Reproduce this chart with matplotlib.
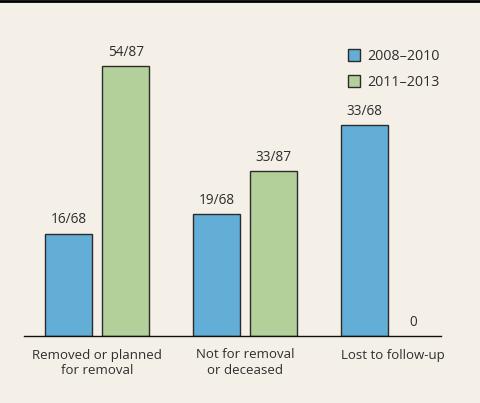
import numpy as np
import matplotlib
matplotlib.use("Agg")
import matplotlib.pyplot as plt
from matplotlib.lines import Line2D

categories = ["Removed or planned\nfor removal", "Not for removal\nor deceased", "Lost to follow-up"]
series_names = ["2008\u20132010", "2011\u20132013"]
counts_0810 = [16, 19, 33]
counts_1113 = [54, 33, 0]
total_0810 = 68
total_1113 = 87

bg = "#f4efe7"
blue = "#62aed7"
green = "#b4d09a"
edge = "#2b2b2b"
txt = "#2e2e2e"

plt.rcParams["font.family"] = ["Open Sans", "DejaVu Sans"]
fs = 9.5

fig = plt.figure(figsize=(4.8, 4.03), dpi=100, facecolor=bg)
ax = fig.add_axes([24 / 480, 67 / 403, 417 / 480, 316 / 403])
ax.set_facecolor(bg)

pct_a = np.array(counts_0810) / total_0810 * 100
pct_b = np.array(counts_1113) / total_1113 * 100

x = np.arange(len(categories))
w = 0.318
off = 0.194

ax.bar(x - off, pct_a, w, color=blue, edgecolor=edge, linewidth=1.0, label=series_names[0])
bars_b = ax.bar(x + off, pct_b, w, color=green, edgecolor=edge, linewidth=1.0, label=series_names[1])
for b, c in zip(bars_b, counts_1113):
    if c == 0:
        b.set_linewidth(0)

for xi, p, c in zip(x - off, pct_a, counts_0810):
    ax.text(xi, p + 1.4, f"{c}/{total_0810}", ha="center", va="bottom",
            fontsize=fs + 0.3, color=txt)
for xi, p, c in zip(x + off, pct_b, counts_1113):
    lbl = f"{c}/{total_1113}" if c else "0"
    ax.text(xi - (0.06 if c == 0 else 0), p + 1.4, lbl,
            ha="center", va="bottom", fontsize=fs + 0.3, color=txt)

ax.set_xlim(-0.495, 2.323)
ax.set_ylim(0, 72.6)
ax.set_xticks(x)
ax.set_xticklabels(categories, fontsize=fs, color=txt, linespacing=1.3)
ax.tick_params(axis="x", length=0, pad=9)
ax.set_yticks([])
for s in ["top", "right", "left"]:
    ax.spines[s].set_visible(False)
ax.spines["bottom"].set_color("#111111")
ax.spines["bottom"].set_linewidth(1.0)

ax.legend(loc="upper left", bbox_to_anchor=(0.745, 0.948), frameon=False,
          fontsize=10.3, handlelength=0.9, handleheight=0.9, handletextpad=0.5,
          labelspacing=0.72, labelcolor=txt)

fig.add_artist(Line2D([0, 1], [1 - 0.5 / 403, 1 - 0.5 / 403], transform=fig.transFigure,
                      color="black", linewidth=2))

fig.savefig("out.png", dpi=100, facecolor=bg)
